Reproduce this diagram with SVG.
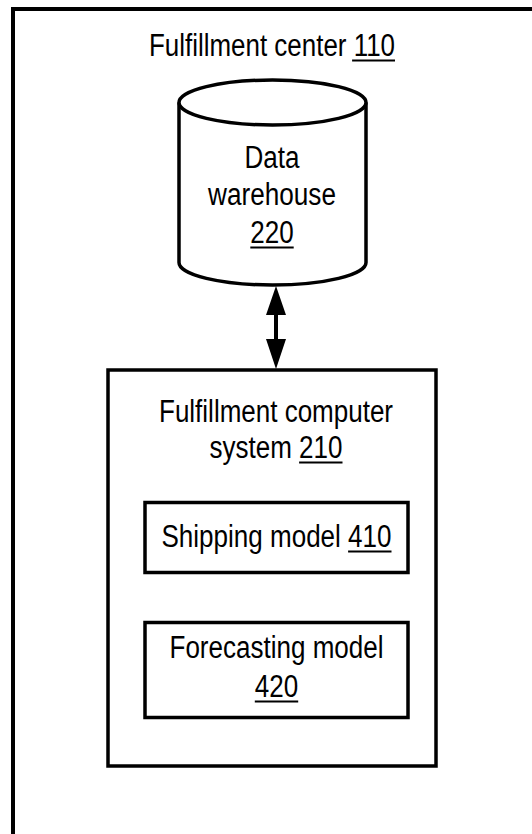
<svg xmlns="http://www.w3.org/2000/svg" width="532" height="834" viewBox="0 0 532 834">
<style>
.box{fill:#fff;stroke:#000;stroke-width:3.5}
.t{font-family:"Liberation Sans",Arial,sans-serif;font-size:31px;fill:#000;text-anchor:middle}
.ul{stroke:#000;stroke-width:2.2}
</style>
<rect width="532" height="834" fill="#fff"/>
<g id="fulfillment-center-110">
<rect x="13" y="9" width="560" height="860" fill="none" stroke="#000" stroke-width="4"/>
<text class="t" x="272" y="56" textLength="246" lengthAdjust="spacingAndGlyphs">Fulfillment center 110</text>
<line class="ul" x1="352.1" y1="60.5" x2="395" y2="60.5"/>
</g>
<g id="data-warehouse-220">
<path class="box" d="M179,102.5 V262.5 A93.5,22.5 0 0 0 366,262.5 V102.5"/>
<ellipse class="box" cx="272.5" cy="102.5" rx="93.5" ry="22.5"/>
<text class="t" x="272" y="168" textLength="55" lengthAdjust="spacingAndGlyphs">Data</text>
<text class="t" x="272" y="205" textLength="128" lengthAdjust="spacingAndGlyphs">warehouse</text>
<text class="t" x="272" y="243" textLength="43.4" lengthAdjust="spacingAndGlyphs">220</text>
<line class="ul" x1="250.3" y1="247.5" x2="293.7" y2="247.5"/>
</g>
<g id="connectors">
<line x1="276" y1="312" x2="276" y2="342" stroke="#000" stroke-width="4"/>
<polygon points="276,286 266,315 286,315" fill="#000"/>
<polygon points="276,369 266,339 286,339" fill="#000"/>
</g>
<g id="fulfillment-computer-system-210">
<rect class="box" x="108" y="370" width="328" height="396"/>
<text class="t" x="276" y="422" textLength="234" lengthAdjust="spacingAndGlyphs">Fulfillment computer</text>
<text class="t" x="276" y="458" textLength="133" lengthAdjust="spacingAndGlyphs">system 210</text>
<line class="ul" x1="299.1" y1="462.5" x2="342.5" y2="462.5"/>
</g>
<g id="shipping-model-410">
<rect class="box" x="145" y="502.5" width="263" height="70"/>
<text class="t" x="276.5" y="547" textLength="230" lengthAdjust="spacingAndGlyphs">Shipping model 410</text>
<line class="ul" x1="348.1" y1="551.5" x2="391.5" y2="551.5"/>
</g>
<g id="forecasting-model-420">
<rect class="box" x="145" y="622.5" width="263" height="95"/>
<text class="t" x="276.5" y="658" textLength="214" lengthAdjust="spacingAndGlyphs">Forecasting model</text>
<text class="t" x="276.5" y="697" textLength="43.4" lengthAdjust="spacingAndGlyphs">420</text>
<line class="ul" x1="254.8" y1="701.5" x2="298.2" y2="701.5"/>
</g>
</svg>
